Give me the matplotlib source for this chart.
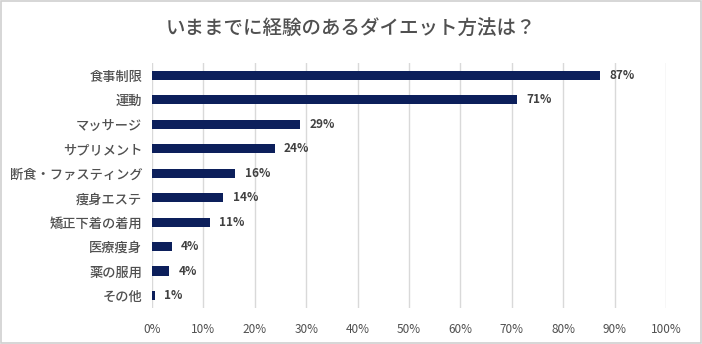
import matplotlib.pyplot as plt
from matplotlib.patches import Rectangle

plt.rcParams['font.family'] = ['Noto Sans CJK JP', 'DejaVu Sans']

categories = ['食事制限', '運動', 'マッサージ', 'サプリメント', '断食・ファスティング',
              '痩身エステ', '矯正下着の着用', '医療痩身', '薬の服用', 'その他']
values = [87, 71, 29, 24, 16, 14, 11, 4, 4, 1]
# bar lengths (labels are rounded)
lengths = [87.2, 71.0, 28.8, 23.9, 16.2, 13.9, 11.3, 3.8, 3.4, 0.6]
ticks = list(range(0, 101, 10))

fig = plt.figure(figsize=(7.02, 3.44), dpi=100)
ax = fig.add_axes([0.2165, 0.105, 0.7322, 0.712])

y = list(range(len(categories)))
ax.barh(y, lengths, height=0.38, color='#0c1f5b', zorder=3)
for yi, v, l in zip(y, values, lengths):
    ax.text(l + 1.8, yi, f'{v}%', va='center', ha='left', fontsize=8.5,
            fontweight='bold', color='#404040')

ax.set_xlim(0, 100)
ax.set_ylim(len(categories) - 0.5, -0.5)
ax.set_xticks(ticks)
ax.set_xticklabels([f'{t}%' for t in ticks], fontsize=8.5, color='#505050')
ax.set_yticks(y)
ax.set_yticklabels(categories, fontsize=9.5, color='#505050', fontweight='medium')
ax.tick_params(length=0, pad=7)
ax.tick_params(axis='x', pad=11)
ax.grid(axis='x', color='#d9d9d9', linewidth=1, zorder=0)
for s in ax.spines.values():
    s.set_visible(False)

fig.text(0.5, 0.915, 'いままでに経験のあるダイエット方法は？', ha='center', va='center',
         fontsize=14, color='#505050', fontweight='medium')
fig.patches.append(Rectangle((0.002, 0.003), 0.996, 0.994, transform=fig.transFigure,
                             fill=False, edgecolor='#d0d0d0', linewidth=1.2))

fig.savefig('out.png', dpi=100)
